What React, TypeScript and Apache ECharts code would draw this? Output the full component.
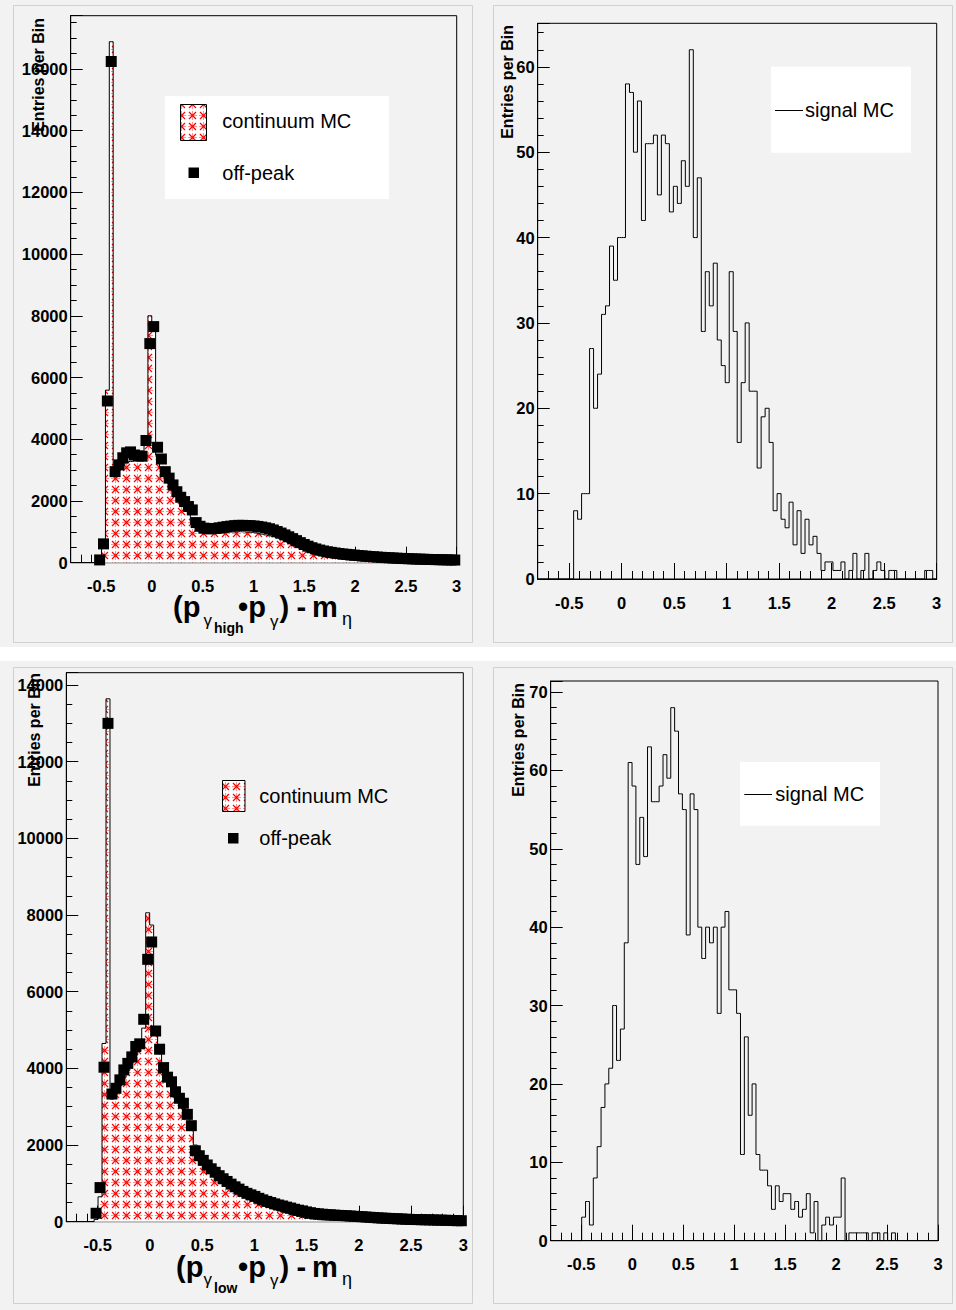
import React, { useEffect, useRef } from 'react';
import * as echarts from 'echarts';

// ---- binning (100 bins from -0.8 to 3.0) ----
const XMIN = -0.8;
const XMAX = 3.0;
const NBINS = 100;

// ---- data ----
const tlContinuumMC = [
  0, 0, 0, 0, 0, 0, 0, 50, 500, 5590,
  16880, 2850, 3000, 3150, 3230, 3280, 3300, 3310, 3350, 3800,
  8000, 7700, 3480, 3050, 2780, 2580, 2390, 2200, 2030, 1950,
  1820, 1250, 1150, 1060, 1000, 965, 955, 955, 960, 970,
  985, 995, 1000, 1005, 1000, 995, 985, 970, 950, 925,
  900, 870, 840, 800, 760, 710, 650, 590, 530, 470,
  410, 355, 305, 265, 230, 200, 175, 155, 135, 118,
  103, 90, 80, 70, 62, 56, 52, 48, 45, 42,
  40, 38, 36, 34, 33, 32, 31, 30, 29, 28,
  27, 26, 25, 24, 23, 22, 22, 21, 20, 20,
];
const tlOffPeak = [
  null, null, null, null, null, null, null, 90, 610, 5240,
  16240, 2950, 3170, 3400, 3560, 3590, 3490, 3460, 3450, 3960,
  7100, 7650, 3740, 3360, 2950, 2740, 2520, 2300, 2120, 1980,
  1820, 1710, 1300, 1180, 1120, 1100, 1100, 1110, 1130, 1150,
  1170, 1185, 1200, 1210, 1210, 1205, 1200, 1190, 1175, 1155,
  1130, 1100, 1060, 1010, 960, 900, 840, 780, 715, 650,
  590, 535, 485, 445, 410, 380, 355, 335, 315, 298,
  283, 270, 258, 246, 234, 222, 211, 201, 191, 182,
  174, 166, 159, 152, 146, 140, 134, 129, 124, 119,
  115, 111, 107, 103, 100, 97, 94, 91, 88, 86,
];
const trSignalMC = [
  0, 0, 0, 0, 0, 0, 0, 0, 0, 8,
  7, 10, 10, 27, 20, 24, 31, 32, 39, 35,
  40, 40, 58, 57, 50, 56, 42, 51, 51, 52,
  45, 52, 51, 43, 46, 44, 49, 46, 62, 40,
  47, 29, 36, 32, 37, 28, 25, 23, 36, 29,
  16, 23, 30, 22, 22, 13, 19, 20, 16, 8,
  10, 7, 6, 9, 4, 8, 3, 7, 4, 5,
  3, 1, 2, 2, 1, 1, 2, 0, 1, 3,
  0, 1, 3, 0, 1, 2, 1, 0, 1, 1,
  0, 0, 0, 0, 0, 0, 0, 1, 1, 0,
];
const blContinuumMC = [
  0, 0, 0, 0, 0, 0, 0, 60, 650, 4650,
  13640, 3200, 3350, 3550, 3750, 3950, 4150, 4350, 4550, 5050,
  8060, 7740, 4900, 4380, 4000, 3750, 3550, 3350, 3150, 2950,
  2700, 2480, 2000, 1850, 1700, 1550, 1420, 1300, 1180, 1080,
  1000, 920, 840, 770, 720, 650, 590, 535, 485, 440,
  400, 360, 325, 290, 258, 225, 195, 165, 135, 108,
  85, 70, 60, 52, 46, 42, 38, 35, 33, 31,
  29, 27, 26, 25, 24, 23, 22, 22, 21, 20,
  20, 19, 19, 18, 18, 17, 17, 16, 16, 15,
  15, 15, 14, 14, 14, 13, 13, 13, 12, 12,
];
const blOffPeak = [
  null, null, null, null, null, null, null, 220, 890, 4030,
  13000, 3330, 3480, 3700, 3960, 4130, 4300, 4570, 4640, 5280,
  6845, 7297, 4975, 4500, 4020, 3770, 3650, 3390, 3220, 3090,
  2800, 2505, 1850, 1720, 1600, 1480, 1380, 1290, 1200, 1120,
  1050, 980, 910, 850, 790, 740, 700, 660, 610, 570,
  530, 500, 465, 435, 410, 380, 355, 325, 300, 280,
  255, 235, 215, 205, 195, 185, 180, 172, 165, 160,
  155, 148, 142, 136, 130, 122, 115, 108, 100, 95,
  90, 85, 80, 75, 70, 65, 60, 58, 55, 52,
  50, 48, 45, 42, 40, 37, 34, 30, 27, 25,
];
const brSignalMC = [
  0, 0, 0, 0, 0, 0, 0, 0, 3, 5,
  2, 8, 12, 17, 20, 22, 30, 23, 27, 38,
  61, 58, 48, 54, 49, 63, 56, 56, 58, 62,
  59, 68, 65, 57, 55, 39, 57, 55, 40, 36,
  40, 38, 40, 29, 40, 42, 32, 32, 29, 11,
  26, 16, 20, 11, 9, 9, 7, 4, 7, 5,
  6, 6, 4, 5, 3, 4, 6, 1, 5, 0,
  2, 3, 2, 3, 3, 8, 0, 1, 1, 1,
  1, 1, 0, 1, 1, 0, 1, 0, 1, 0,
  0, 0, 0, 0, 0, 0, 0, 0, 0, 0,
];

const yAxisTitle = 'Entries per Bin';
const legendContinuum = 'continuum MC';
const legendOffPeak = 'off-peak';
const legendSignal = 'signal MC';

const FONT = '"Liberation Sans", Arial, Helvetica, sans-serif';
const BINW = (XMAX - XMIN) / NBINS;
const center = (i: number) => XMIN + BINW * (i + 0.5);

function stepData(vals: number[]) {
  const d: number[][] = [[XMIN, vals[0]]];
  vals.forEach((v, i) => d.push([center(i), v]));
  d.push([XMAX, vals[vals.length - 1]]);
  return d;
}
function markerData(vals: (number | null)[]) {
  const d: number[][] = [];
  vals.forEach((v, i) => { if (v !== null) d.push([center(i), v]); });
  return d;
}
function dataMax(...arrs: (number | null)[][]) {
  let m = 0;
  arrs.forEach(a => a.forEach(v => { if (v !== null && v > m) m = v; }));
  return m * 1.05;
}

function makePattern(): string {
  const c = document.createElement('canvas');
  c.width = 11; c.height = 11;
  const g = c.getContext('2d')!;
  g.fillStyle = '#ffffff';
  g.fillRect(0, 0, 11, 11);
  g.lineWidth = 1;
  g.strokeStyle = '#ff9090';
  g.beginPath();
  g.moveTo(5.5, 1); g.lineTo(5.5, 10);
  g.moveTo(1, 5.5); g.lineTo(10, 5.5);
  g.stroke();
  g.strokeStyle = '#ff0000';
  g.lineWidth = 1.2;
  g.beginPath();
  g.moveTo(2, 2); g.lineTo(9, 9);
  g.moveTo(9, 2); g.lineTo(2, 9);
  g.stroke();
  return c.toDataURL();
}

const fmtNum = (v: number) => String(Number(v.toFixed(3)));

export default function App() {
  const ref = useRef<HTMLDivElement>(null);
  useEffect(() => {
    if (!ref.current) return;
    const chart = echarts.init(ref.current, undefined, { renderer: 'svg', width: 956, height: 1310 });
    const pattern: any = { image: makePattern(), repeat: 'repeat', imageWidth: 11, imageHeight: 11 };

    const grids = [
      { left: 70.7, top: 15.7, width: 386, height: 547 },
      { left: 537.7, top: 23.3, width: 399, height: 555.7 },
      { left: 66.3, top: 672.7, width: 397, height: 549 },
      { left: 550.7, top: 681, width: 387.3, height: 559.7 },
    ];
    const yMaxes = [
      dataMax(tlContinuumMC, tlOffPeak),
      dataMax(trSignalMC),
      dataMax(blContinuumMC, blOffPeak),
      dataMax(brSignalMC),
    ];
    const yMajor = [2000, 10, 2000, 10];
    const yMinor = [500, 2, 500, 2];

    const labelStyle = { color: '#000', fontFamily: FONT, fontWeight: 'bold' as const, fontSize: 16.5 };
    const xAxes: any[] = [];
    const yAxes: any[] = [];
    grids.forEach((_, gi) => {
      xAxes.push({
        type: 'value', gridIndex: gi, position: 'bottom', min: XMIN, max: XMAX,
        minInterval: 0.5, maxInterval: 0.5, splitNumber: 8,
        axisLine: { show: true, onZero: false, lineStyle: { color: '#000', width: 1 } },
        axisTick: { show: true, inside: true, length: 16, lineStyle: { color: '#000', width: 1 } },
        axisLabel: {
          ...labelStyle, margin: 15,
          formatter: (v: number) => (Math.abs(v * 2 - Math.round(v * 2)) < 1e-6 ? fmtNum(v) : ''),
        },
        splitLine: { show: false },
      });
      xAxes.push({
        type: 'value', gridIndex: gi, position: 'bottom', min: XMIN, max: XMAX, interval: 0.1,
        axisLine: { show: false, onZero: false },
        axisTick: { show: true, inside: true, length: 8, lineStyle: { color: '#000', width: 1 } },
        axisLabel: { show: false },
        splitLine: { show: false },
      });
      yAxes.push({
        type: 'value', gridIndex: gi, position: 'left', min: 0, max: yMaxes[gi], interval: yMajor[gi],
        axisLine: { show: true, onZero: false, lineStyle: { color: '#000', width: 1 } },
        axisTick: { show: true, inside: true, length: 12, lineStyle: { color: '#000', width: 1 } },
        axisLabel: {
          ...labelStyle, margin: 3,
          formatter: (v: number) => (Math.abs(v / yMajor[gi] - Math.round(v / yMajor[gi])) < 1e-6 ? fmtNum(v) : ''),
        },
        splitLine: { show: false },
      });
      yAxes.push({
        type: 'value', gridIndex: gi, position: 'left', min: 0, max: yMaxes[gi], interval: yMinor[gi],
        axisLine: { show: false, onZero: false },
        axisTick: { show: true, inside: true, length: 6, lineStyle: { color: '#000', width: 1 } },
        axisLabel: { show: false },
        splitLine: { show: false },
      });
    });

    const mcSeries = (gi: number, vals: number[]) => ({
      type: 'line', name: legendContinuum, xAxisIndex: gi * 2, yAxisIndex: gi * 2,
      data: stepData(vals), step: 'middle', symbol: 'none', showSymbol: false,
      lineStyle: { color: '#000', width: 1 },
      areaStyle: { color: pattern, opacity: 1 },
      z: 2,
    });
    const sigSeries = (gi: number, vals: number[]) => ({
      type: 'line', name: legendSignal, xAxisIndex: gi * 2, yAxisIndex: gi * 2,
      data: stepData(vals), step: 'middle', symbol: 'none', showSymbol: false,
      lineStyle: { color: '#000', width: 1 },
      z: 2,
    });
    const offSeries = (gi: number, vals: (number | null)[]) => ({
      type: 'scatter', name: legendOffPeak, xAxisIndex: gi * 2, yAxisIndex: gi * 2,
      data: markerData(vals), symbol: 'rect', symbolSize: 11,
      itemStyle: { color: '#000', opacity: 1 }, z: 3, clip: false,
    });

    const txt = (text: string, x: number, y: number, size: number, weight = 'normal', align = 'left', rotation = 0, lh?: number) => ({
      type: 'text', x, y, rotation, silent: true, z: 20,
      style: {
        text, fill: '#000', fontSize: size, fontWeight: weight, fontFamily: FONT,
        align, textAlign: align, verticalAlign: 'middle', textVerticalAlign: 'middle',
        ...(lh ? { lineHeight: lh } : {}),
      },
    });
    const rect = (x: number, y: number, w: number, h: number, style: any, z = 10) => ({
      type: 'rect', shape: { x, y, width: w, height: h }, style, silent: true, z,
    });
    const hline = (x1: number, x2: number, y: number, stroke = '#000', z = 10) => ({
      type: 'line', shape: { x1, y1: y, x2, y2: y }, style: { stroke, lineWidth: 1 }, silent: true, z,
    });

    const xTitle = (x0: number, y0: number, sub: string) => [
      txt('(p', x0, y0, 29, 'bold', 'left', 0, 22),
      txt('\u03b3', 203.5, y0 + 13, 17, 'normal', 'left', 0, 14),
      txt(sub, 214, y0 + 21, 14, 'bold', 'left', 0, 12),
      txt('\u2022p', 238, y0, 29, 'bold', 'left', 0, 22),
      txt('\u03b3', 270, y0 + 14, 17, 'normal', 'left', 0, 14),
      txt(')', 279.5, y0, 29, 'bold', 'left', 0, 22),
      txt('-', 296.5, y0, 29, 'bold', 'left', 0, 22),
      txt('m', 312, y0, 29, 'bold', 'left', 0, 22),
      txt('\u03b7', 342, y0 + 12, 18, 'normal', 'left', 0, 14),
    ];

    const graphic: any[] = [
      // canvas decoration: white separators and pad bevels
      rect(0, 647, 956, 14, { fill: '#ffffff' }, 0),
      rect(13.5, 5.5, 459, 637, { fill: 'none', stroke: '#d0d0d0', lineWidth: 1 }, 0),
      rect(493.5, 5.5, 459, 637, { fill: 'none', stroke: '#d0d0d0', lineWidth: 1 }, 0),
      rect(13.5, 667.5, 459, 636, { fill: 'none', stroke: '#d0d0d0', lineWidth: 1 }, 0),
      rect(493.5, 667.5, 459, 636, { fill: 'none', stroke: '#d0d0d0', lineWidth: 1 }, 0),
      // y axis titles
      txt(yAxisTitle, 38.5, 18, 16, 'bold', 'right', Math.PI / 2),
      txt(yAxisTitle, 507, 25, 16, 'bold', 'right', Math.PI / 2),
      txt(yAxisTitle, 34.5, 673, 16, 'bold', 'right', Math.PI / 2),
      txt(yAxisTitle, 518.5, 683, 16, 'bold', 'right', Math.PI / 2),
      // x axis titles
      ...xTitle(173, 607, 'high'),
      ...xTitle(176, 1266.5, 'low'),
      // legend TL
      rect(165, 96, 224, 103, { fill: '#ffffff' }),
      rect(180.5, 104.5, 26, 36, { fill: pattern, stroke: '#000', lineWidth: 1 }, 11),
      txt(legendContinuum, 222.3, 120.7, 20),
      rect(188.5, 167.5, 10.5, 10.5, { fill: '#000' }, 11),
      txt(legendOffPeak, 222.3, 172.7, 20),
      // legend TR
      rect(771, 66.7, 140, 86, { fill: '#ffffff' }),
      hline(775, 803, 110.5, '#000', 11),
      txt(legendSignal, 805, 110, 20),
      // legend BL (no box)
      rect(222.5, 780.5, 22.5, 31, { fill: pattern, stroke: '#000', lineWidth: 1 }, 11),
      txt(legendContinuum, 259.3, 795.7, 20),
      rect(228, 833, 10.5, 10.5, { fill: '#000' }, 11),
      txt(legendOffPeak, 259.3, 838.3, 20),
      // legend BR
      rect(740, 762, 140, 63.7, { fill: '#ffffff' }),
      hline(744.3, 772, 794.5, '#000', 11),
      txt(legendSignal, 775.3, 794, 20),
    ];

    chart.setOption({
      animation: false,
      backgroundColor: '#f2f2f2',
      grid: grids.map(g => ({ ...g, show: true, borderColor: '#000', borderWidth: 1, backgroundColor: 'transparent', containLabel: false })),
      xAxis: xAxes,
      yAxis: yAxes,
      series: [
        mcSeries(0, tlContinuumMC),
        offSeries(0, tlOffPeak),
        sigSeries(1, trSignalMC),
        mcSeries(2, blContinuumMC),
        offSeries(2, blOffPeak),
        sigSeries(3, brSignalMC),
      ],
      graphic,
    } as any);
    return () => chart.dispose();
  }, []);
  return <div ref={ref} style={{ position: 'absolute', left: 0, top: 0, width: 956, height: 1310 }} />;
}
